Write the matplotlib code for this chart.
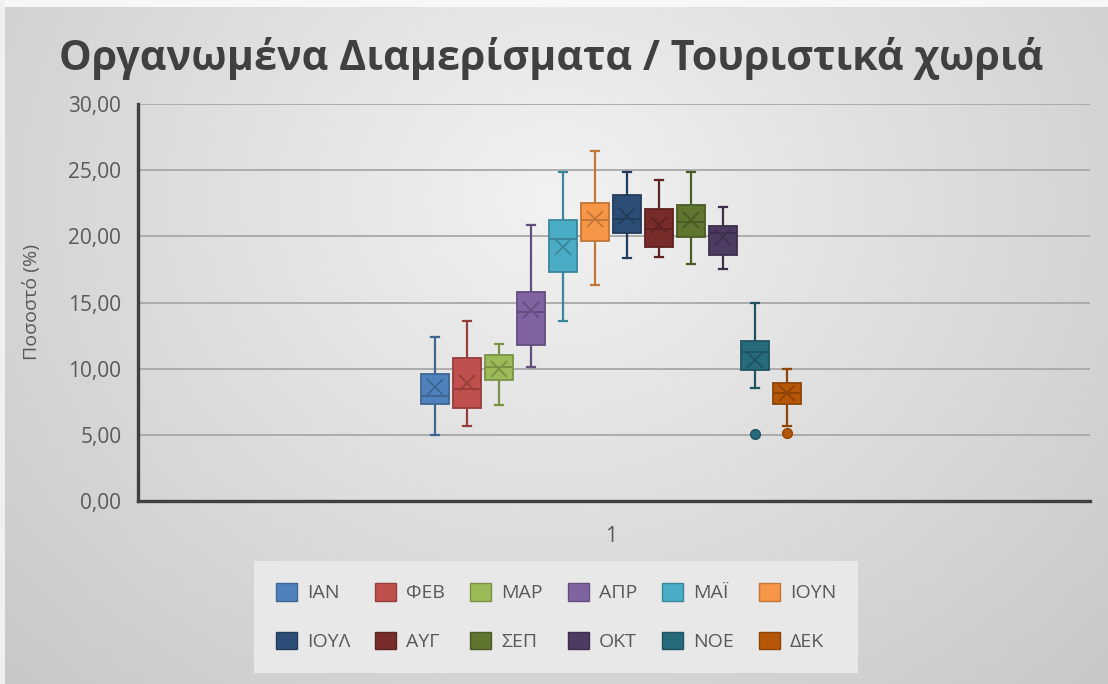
import matplotlib
matplotlib.use('Agg')
import matplotlib.pyplot as plt
from matplotlib.patches import Patch, Rectangle
import numpy as np

plt.rcParams['font.family'] = ['Open Sans', 'DejaVu Sans']

# δεδομένα (εκτίμηση από την εικόνα)
months = ['ΙΑΝ', 'ΦΕΒ', 'ΜΑΡ', 'ΑΠΡ', 'ΜΑΪ', 'ΙΟΥΝ',
          'ΙΟΥΛ', 'ΑΥΓ', 'ΣΕΠ', 'ΟΚΤ', 'ΝΟΕ', 'ΔΕΚ']
whis_lo = [4.96, 5.67, 7.26, 10.15, 13.63, 16.33, 18.34, 18.42, 17.91, 17.54, 8.57, 5.69]
q1 = [7.33, 7.05, 9.15, 11.82, 17.28, 19.65, 20.28, 19.20, 19.93, 18.62, 9.90, 7.33]
medians = [7.94, 8.44, 10.10, 14.31, 19.78, 21.24, 21.34, 20.53, 21.09, 20.28, 11.29, 8.14]
q3 = [9.60, 10.78, 11.06, 15.82, 21.24, 22.50, 23.10, 22.10, 22.37, 20.81, 12.12, 8.94]
whis_hi = [12.42, 13.63, 11.87, 20.89, 24.84, 26.48, 24.87, 24.29, 24.87, 22.20, 14.94, 9.98]
means = [8.64, 8.94, 10.00, 14.44, 19.22, 21.30, 21.50, 20.86, 21.24, 19.98, 10.66, 8.14]
outliers = [[], [], [], [], [], [], [], [], [], [], [5.09], [5.16]]

colors = ['#4F81BD', '#C0504D', '#9BBB59', '#8064A2', '#4BACC6', '#F79646',
          '#2C4D75', '#772C2A', '#5F7530', '#4D3B62', '#276A7C', '#B65708']


def darker(c, f=0.8):
    rgb = np.array(matplotlib.colors.to_rgb(c))
    return tuple(rgb * f)


W, H = 1108, 684
fig = plt.figure(figsize=(W / 100, H / 100), dpi=100)

# φόντο με διαβάθμιση
bg = fig.add_axes([0, 0, 1, 1], zorder=-10)
yy, xx = np.mgrid[0:H, 0:W]
u = (xx - 554) / 554.0
v = (yy - 200) / 484.0
r = np.sqrt(u ** 2 + v ** 2)
g = np.clip((242 - 30 * r) / 255.0, 0, 1)
bg.imshow(np.dstack([g, g, g]), aspect='auto', extent=[0, W, H, 0])
bg.add_patch(Rectangle((0, 0), W, 7, color='#f7f7f7', lw=0))
bg.add_patch(Rectangle((0, 0), 5, H, color='#f0f0f0', lw=0))
bg.set_xlim(0, W)
bg.set_ylim(H, 0)
bg.axis('off')

ax = fig.add_axes([138 / W, 1 - 501 / H, 952 / W, 397 / H])
ax.patch.set_alpha(0)

positions = np.arange(len(months)) - 5.5
stats = []
for i in range(len(months)):
    stats.append(dict(med=medians[i], q1=q1[i], q3=q3[i], whislo=whis_lo[i],
                      whishi=whis_hi[i], mean=means[i], fliers=outliers[i]))

res = ax.bxp(stats, positions=positions, widths=0.9, patch_artist=True,
             showmeans=True, capwidths=0.26, manage_ticks=False)

for i, c in enumerate(colors):
    ec = darker(c, 0.78)
    box = res['boxes'][i]
    box.set_facecolor(c)
    box.set_edgecolor(ec)
    box.set_linewidth(1.3)
    box.set_zorder(3)
    for ln in res['whiskers'][2 * i:2 * i + 2] + res['caps'][2 * i:2 * i + 2]:
        ln.set_color(ec)
        ln.set_linewidth(1.6)
        ln.set_zorder(2)
    res['medians'][i].set_color(ec)
    res['medians'][i].set_linewidth(1.4)
    res['medians'][i].set_zorder(4)
    m = res['means'][i]
    m.set_marker('x')
    m.set_markersize(12)
    m.set_markeredgecolor(ec)
    m.set_markeredgewidth(1.3)
    m.set_zorder(4)
    f = res['fliers'][i]
    f.set_marker('o')
    f.set_markersize(7)
    f.set_markerfacecolor(c)
    f.set_markeredgecolor(ec)
    f.set_zorder(4)

ax.set_xlim(-14.78, 14.97)
ax.set_ylim(0, 30)
ax.set_yticks(np.arange(0, 31, 5))
ax.set_yticklabels([f'{t:.2f}'.replace('.', ',') for t in np.arange(0, 31, 5)])
ax.set_xticks([0])
ax.set_xticklabels(['1'])
ax.tick_params(length=0, labelsize=15, labelcolor='#595959', pad=12)
ax.tick_params(axis='x', pad=18)
ax.yaxis.grid(True, color='#a8a8a8', linewidth=1.3)
ax.set_axisbelow(True)
for s in ['top', 'right']:
    ax.spines[s].set_visible(False)
for s in ['left', 'bottom']:
    ax.spines[s].set_color('#404040')
    ax.spines[s].set_linewidth(2.4)

fig.text(551 / W, 1 - 58 / H, 'Οργανωμένα Διαμερίσματα / Τουριστικά χωριά',
         ha='center', va='center', fontsize=29.7, fontweight='bold', color='#404040')
fig.text(32 / W, 1 - 302 / H, 'Ποσοστό (%)', rotation=90, ha='center', va='center',
         fontsize=14, color='#595959')

handles = [Patch(facecolor=c, edgecolor=darker(c, 0.78), label=m) for c, m in zip(colors, months)]
order = []
for k in range(6):
    order += [k, k + 6]
leg = fig.legend([handles[k] for k in order], [months[k] for k in order], ncol=6,
                 loc='center', bbox_to_anchor=(556 / W, 1 - 617 / H),
                 fontsize=14, handlelength=1.08, handleheight=1.03, handletextpad=0.52,
                 columnspacing=1.28, labelspacing=1.5, borderpad=1.15,
                 fancybox=False, frameon=True, facecolor='#e8e8e8', edgecolor='none',
                 framealpha=1)
for t in leg.get_texts():
    t.set_color('#595959')

fig.savefig('out.png', dpi=100)
